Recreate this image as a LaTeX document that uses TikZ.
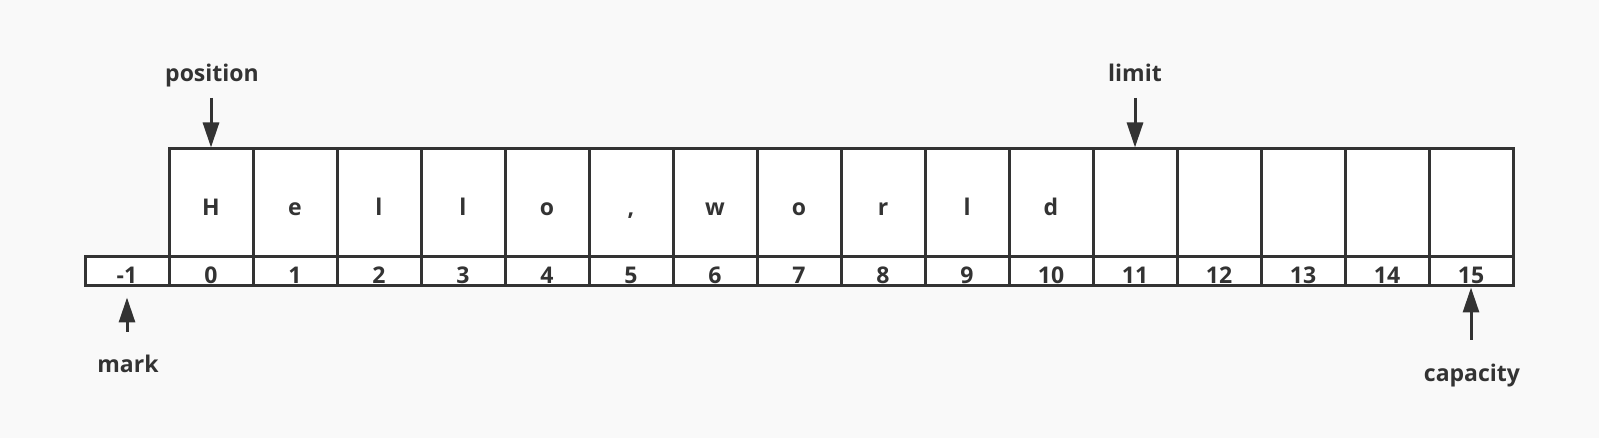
\documentclass[tikz,border=0pt]{standalone}
\usepackage{fontspec}
\setmainfont{Open Sans}
\usetikzlibrary{arrows.meta}
\definecolor{ink}{HTML}{333333}
\definecolor{bg}{HTML}{F9F9F9}
\tikzset{
  cellbox/.style={draw=ink, fill=white, line width=3pt, inner sep=0pt,
    minimum width=84pt, minimum height=108pt, text height=26pt, text depth=0pt,
    font=\fontsize{23}{23}\selectfont\bfseries, text=ink},
  idxbox/.style={draw=ink, fill=white, line width=3pt, inner sep=0pt,
    minimum width=84pt, minimum height=29pt, text height=25pt, text depth=0pt,
    font=\fontsize{23}{23}\selectfont\bfseries, text=ink},
  lbl/.style={font=\fontsize{23}{23}\selectfont\bfseries, text=ink, inner sep=0pt, anchor=base},
  ptr/.style={draw=ink, line width=3pt, -{Triangle[length=25pt,width=16pt]}}
}
\begin{document}
\begin{tikzpicture}[x=1pt,y=-1pt]
\fill[bg] (0,0) rectangle (1599,438);
\useasboundingbox (0,0) rectangle (1599,438);
% index strip
\node[idxbox] (s-1) at (127,271.5) {-1};
\foreach \i in {0,...,15} {
  \node[idxbox] (s\i) at ({169+84*\i+42},271.5) {\i};
}
% data cells
\foreach \i/\c in {0/H,1/e,2/l,3/l,4/o,5/{,},6/w,7/o,8/r,9/l,10/d,11/{},12/{},13/{},14/{},15/{}} {
  \node[cellbox] (c\i) at ({169+84*\i+42},203) {\c};
}
% labels
\node[lbl] (position) at (212,81.5) {position};
\node[lbl] (limit) at (1135,81.5) {limit};
\node[lbl] (mark) at (128,373) {mark};
\node[lbl] (capacity) at (1472,381.5) {capacity};
% pointer tails
\coordinate (ptail) at (211,98);
\coordinate (ltail) at (1135,98);
\coordinate (mtail) at (127,332);
\coordinate (ctail) at (1471,340);
\draw[ptr] (ptail) -- (c0.north);
\draw[ptr] (ltail) -- (c11.north);
\draw[ptr] (mtail) -- ([yshift=-10pt]s-1.south);
\draw[ptr] (ctail) -- (s15.south);
\end{tikzpicture}
\end{document}
